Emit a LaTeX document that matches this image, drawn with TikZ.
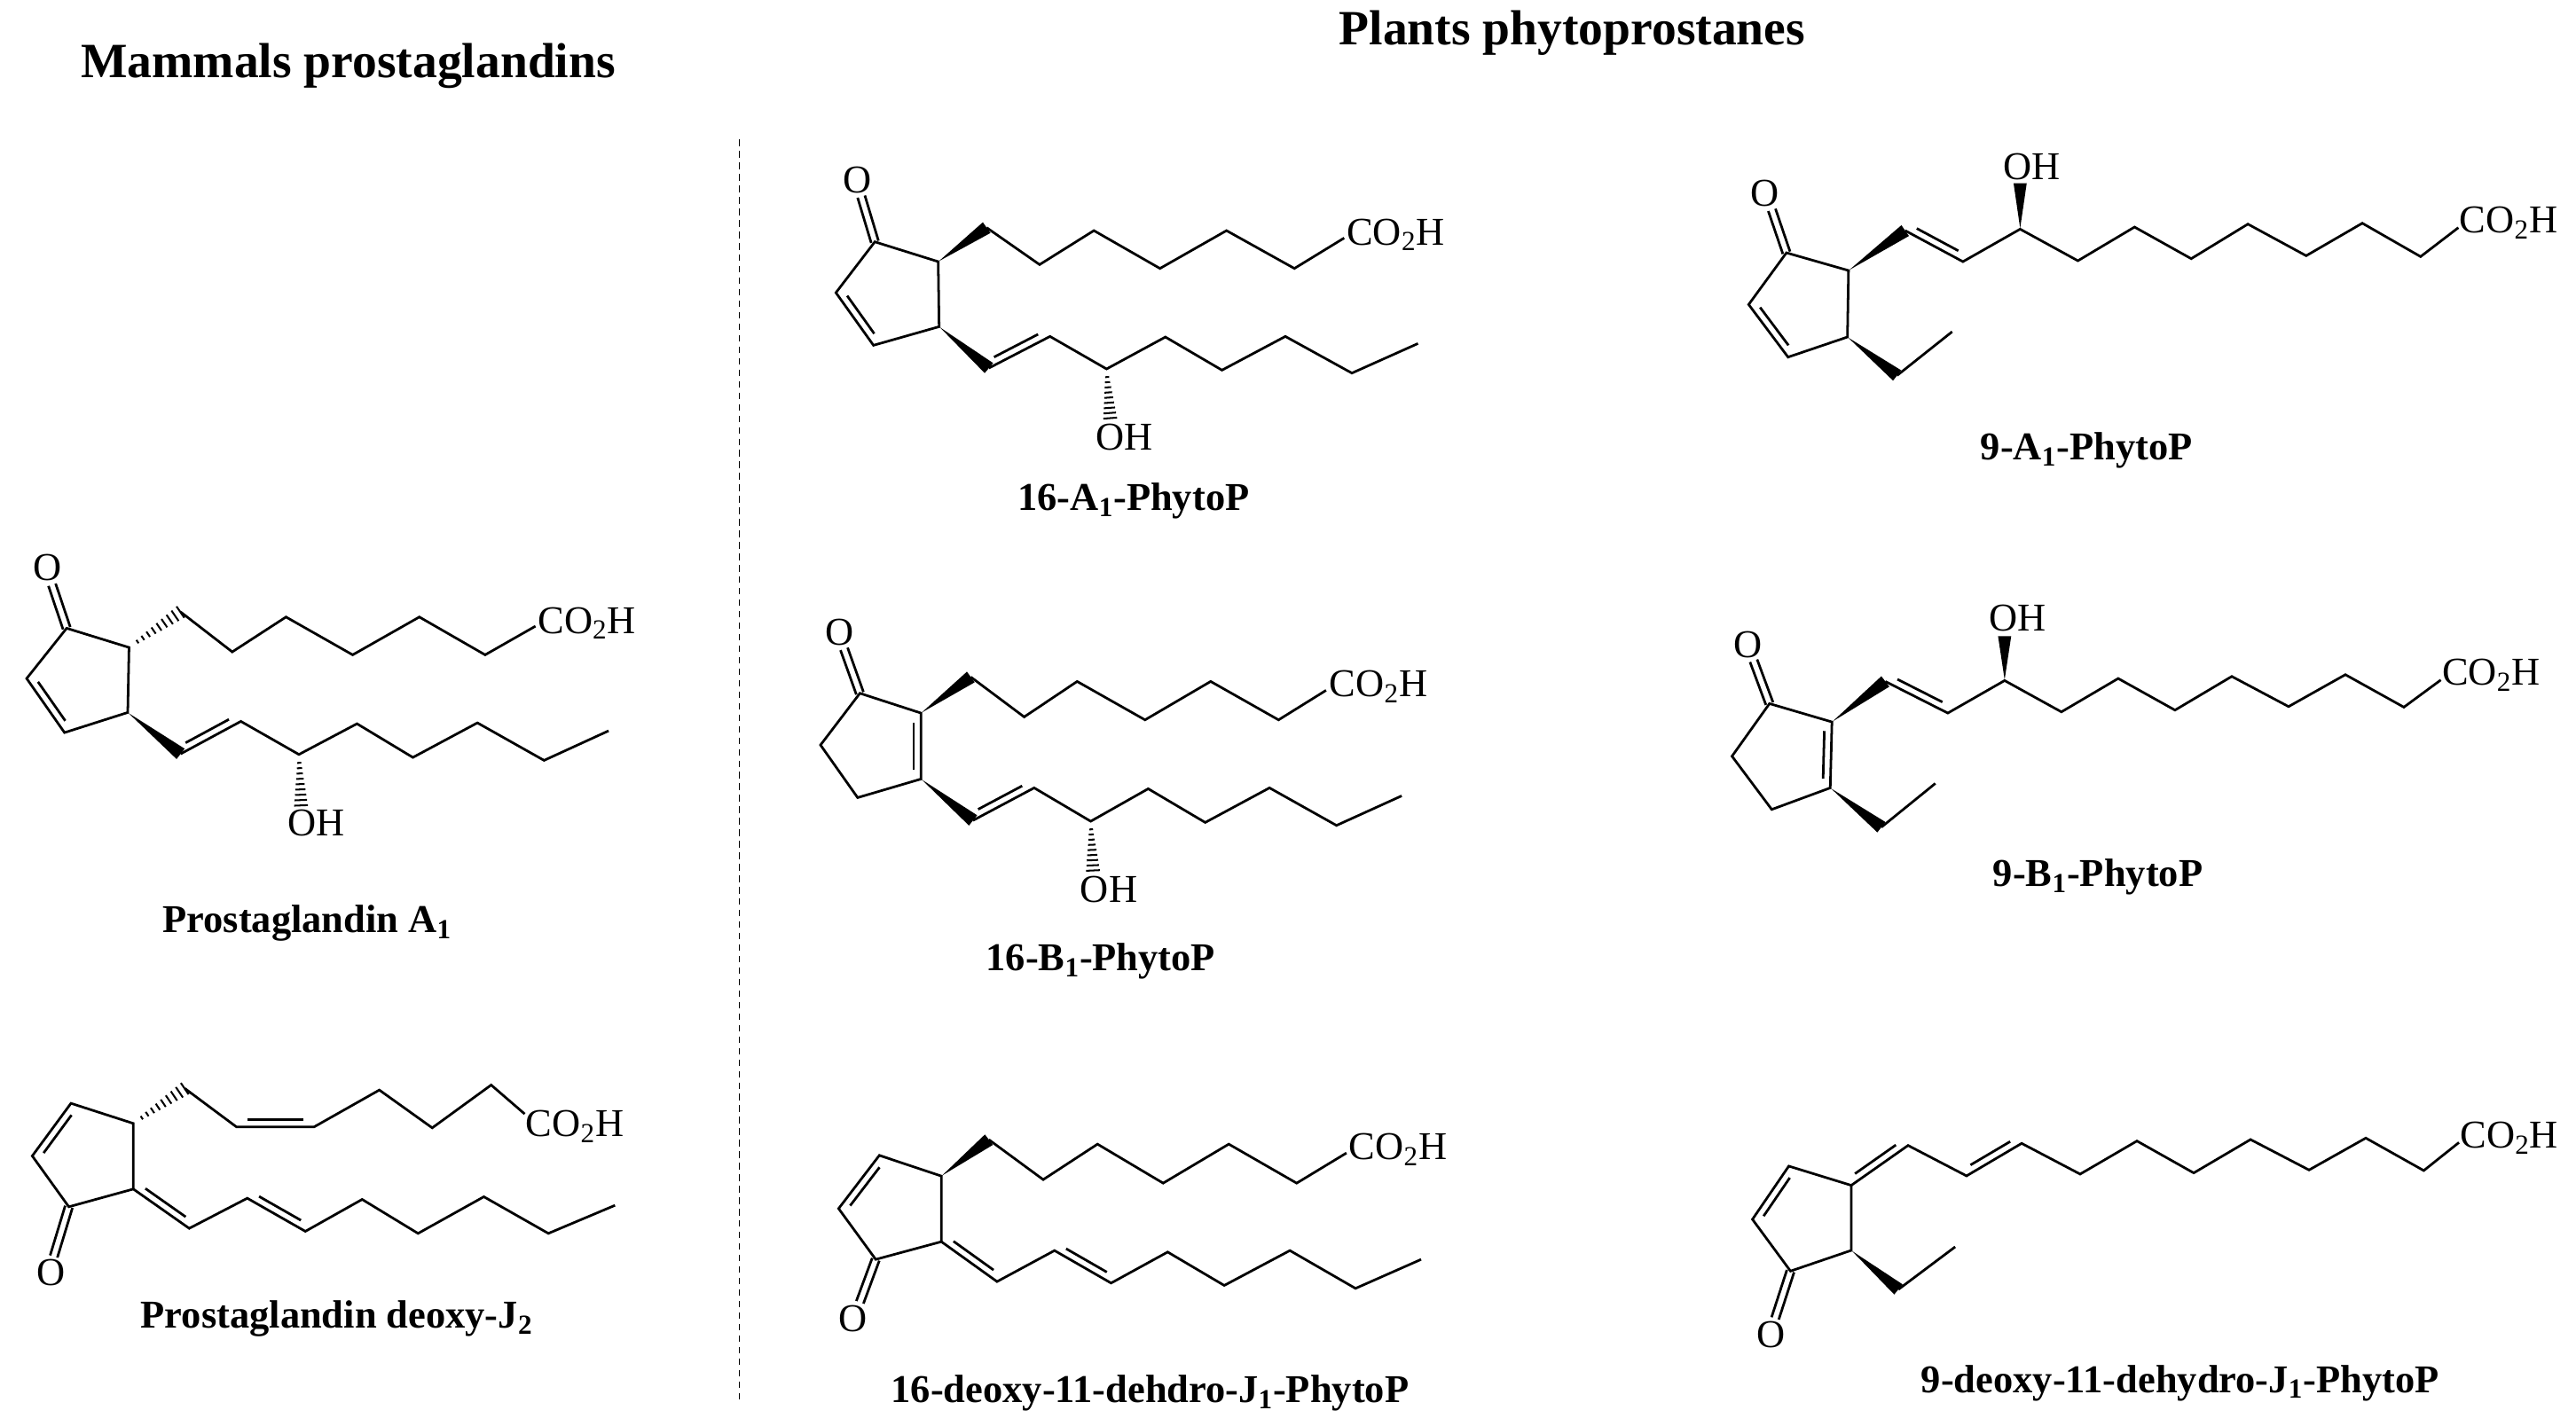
\documentclass[tikz,border=0pt]{standalone}
\usepackage{fontspec}
\setmainfont{Liberation Serif}
\usetikzlibrary{calc}
\tikzset{bond/.style={line width=1.5pt,line join=miter},
 lbl/.style={inner sep=0pt,font=\fontsize{24}{28}\selectfont},
 cname/.style={inner sep=0pt,font=\fontsize{24}{28}\selectfont\bfseries},
 ttl/.style={inner sep=0pt,font=\fontsize{30}{34}\selectfont\bfseries}}
\newcommand\wdg[2]{\fill ($(#1)!0.5pt!(#2)$) -- ($(#2)!4pt!90:(#1)$) -- ($(#2)!4pt!-90:(#1)$) -- cycle;}
\newcommand\hsh[2]{\foreach \i in {1,...,9}{\pgfmathsetmacro\hT{0.06+\i*0.104}\pgfmathsetmacro\hD{0.6+\hT*3.6}%
 \draw[line width=1.1pt] ($(#1)!\hT!(#2)!\hD pt!90:(#2)$) -- ($(#1)!\hT!(#2)!\hD pt!-90:(#2)$);}}
\newcommand\dbin[3]{\draw[bond] ($(#1)!0.14!(#2)!#3!90:(#2)$) -- ($(#1)!0.86!(#2)!#3!90:(#2)$);}
\newcommand\dco[2]{\draw[bond] ($(#1)!2.3pt!90:(#2)$) -- ($(#2)!2.3pt!-90:(#1)$); \draw[bond] ($(#1)!2.3pt!-90:(#2)$) -- ($(#2)!2.3pt!90:(#1)$);}
\begin{document}
\begin{tikzpicture}[x=1pt,y=-1pt]
\useasboundingbox[fill=white] (0,0) rectangle (1568,868);
\node[ttl] (t1) at (212,40) {Mammals prostaglandins};
\node[ttl] (t2) at (957,20) {Plants phytoprostanes};
\draw[line width=1pt,dash pattern=on 4pt off 3pt] (450,85) coordinate (dl1) -- (450,852) coordinate (dl2);

% ---------- PGA1
\begin{scope}[shift={(0,324)},xscale=0.2618,yscale=0.18]
\node[lbl] (AO) at (110,120) {O}; \coordinate (AOe) at (121,178);
\coordinate (Ak) at (155,325); \coordinate (A2) at (300,390); \coordinate (A3) at (297,610);
\coordinate (A4) at (150,678); \coordinate (A5) at (62,495);
\coordinate (Aa1) at (420,270); \coordinate (Aa2) at (540,405); \coordinate (Aa3) at (665,287);
\coordinate (Aa4) at (820,415); \coordinate (Aa5) at (975,287); \coordinate (Aa6) at (1128,415);
\coordinate (Ae) at (1245,318); \node[lbl,anchor=base west] (Ac) at (1250,342) {CO\textsubscript{2}H};
\coordinate (Ab1) at (420,750); \coordinate (Ab2) at (560,640); \coordinate (Ab3) at (695,752);
\coordinate (Aoh) at (700,925); \node[lbl] (AOH) at (735,985) {OH};
\coordinate (Ab4) at (830,648); \coordinate (Ab5) at (960,762); \coordinate (Ab6) at (1110,645);
\coordinate (Ab7) at (1265,772); \coordinate (Ab8) at (1415,672);
\end{scope}
\draw[bond] (Ak)--(A2)--(A3)--(A4)--(A5)--cycle; \dbin{A5}{A4}{4.5pt} \dco{Ak}{AOe}
\hsh{A2}{Aa1} \draw[bond] (Aa1)--(Aa2)--(Aa3)--(Aa4)--(Aa5)--(Aa6)--(Ae);
\wdg{A3}{Ab1} \draw[bond] (Ab1)--(Ab2)--(Ab3)--(Ab4)--(Ab5)--(Ab6)--(Ab7)--(Ab8); \dbin{Ab1}{Ab2}{4.5pt}
\hsh{Ab3}{Aoh}
\node[cname] (An) at (187,562) {Prostaglandin A\textsubscript{1}};

% ---------- PG deoxy-J2
\begin{scope}[shift={(0,621)},xscale=0.2618,yscale=0.18]
\coordinate (J1) at (310,350); \coordinate (Ja) at (165,282); \coordinate (Jb) at (75,460);
\coordinate (Jk) at (160,632); \coordinate (J5) at (310,572);
\coordinate (JOe) at (125,800); \node[lbl] (JO) at (118,855) {O};
\coordinate (Jh1) at (430,232); \coordinate (Jh2) at (550,362); \coordinate (Jh3) at (730,362);
\coordinate (Jh4) at (882,237); \coordinate (Jh5) at (1005,365); \coordinate (Jh6) at (1142,220);
\coordinate (Je) at (1220,318); \node[lbl,anchor=base west] (Jc) at (1222,395) {CO\textsubscript{2}H};
\coordinate (Je1) at (440,705); \coordinate (Je2) at (575,603); \coordinate (Je3) at (710,715);
\coordinate (Je4) at (842,607); \coordinate (Je5) at (972,722); \coordinate (Je6) at (1125,598);
\coordinate (Je7) at (1275,722); \coordinate (Je8) at (1430,627);
\end{scope}
\draw[bond] (J1)--(Ja)--(Jb)--(Jk)--(J5)--cycle; \dbin{Ja}{Jb}{4.5pt} \dco{Jk}{JOe}
\hsh{J1}{Jh1} \draw[bond] (Jh1)--(Jh2)--(Jh3)--(Jh4)--(Jh5)--(Jh6)--(Je); \dbin{Jh2}{Jh3}{4.5pt}
\draw[bond] (J5)--(Je1)--(Je2)--(Je3)--(Je4)--(Je5)--(Je6)--(Je7)--(Je8); \dbin{J5}{Je1}{4.5pt} \dbin{Je2}{Je3}{4.5pt}
\node[cname] (Jn) at (205,803) {Prostaglandin deoxy-J\textsubscript{2}};

% ---------- 16-A1
\begin{scope}[shift={(475.2,81)},xscale=0.2755,yscale=0.18]
\node[lbl] (BO) at (170,160) {O}; \coordinate (BOe) at (178,215);
\coordinate (Bk) at (208,368); \coordinate (B2) at (348,435); \coordinate (B3) at (350,655);
\coordinate (B4) at (205,718); \coordinate (B5) at (122,540);
\coordinate (Ba1) at (455,320); \coordinate (Ba2) at (572,445); \coordinate (Ba3) at (692,330);
\coordinate (Ba4) at (838,458); \coordinate (Ba5) at (985,330); \coordinate (Ba6) at (1135,458);
\coordinate (Be) at (1245,355); \node[lbl,anchor=base west] (Bc) at (1250,378) {CO\textsubscript{2}H};
\coordinate (Bb1) at (460,795); \coordinate (Bb2) at (595,688); \coordinate (Bb3) at (720,798);
\coordinate (Boh) at (728,965); \node[lbl] (BOH) at (760,1030) {OH};
\coordinate (Bb4) at (850,690); \coordinate (Bb5) at (975,802); \coordinate (Bb6) at (1115,688);
\coordinate (Bb7) at (1262,812); \coordinate (Bb8) at (1408,712);
\end{scope}
\draw[bond] (Bk)--(B2)--(B3)--(B4)--(B5)--cycle; \dbin{B5}{B4}{4.5pt} \dco{Bk}{BOe}
\wdg{B2}{Ba1} \draw[bond] (Ba1)--(Ba2)--(Ba3)--(Ba4)--(Ba5)--(Ba6)--(Be);
\wdg{B3}{Bb1} \draw[bond] (Bb1)--(Bb2)--(Bb3)--(Bb4)--(Bb5)--(Bb6)--(Bb7)--(Bb8); \dbin{Bb1}{Bb2}{4.5pt}
\hsh{Bb3}{Boh}
\node[cname] (Bn) at (690,305) {16-A\textsubscript{1}-PhytoP};

% ---------- 16-B1
\begin{scope}[shift={(475.2,356.4)},xscale=0.2755,yscale=0.18]
\node[lbl] (CO) at (130,160) {O}; \coordinate (COe) at (140,215);
\coordinate (Ck) at (175,365); \coordinate (C2) at (310,432); \coordinate (C3) at (310,655);
\coordinate (C4) at (170,718); \coordinate (C5) at (88,540);
\coordinate (Ca1) at (420,310); \coordinate (Ca2) at (538,445); \coordinate (Ca3) at (655,325);
\coordinate (Ca4) at (805,455); \coordinate (Ca5) at (950,325); \coordinate (Ca6) at (1100,455);
\coordinate (Ce) at (1205,355); \node[lbl,anchor=base west] (Cc) at (1212,375) {CO\textsubscript{2}H};
\coordinate (Cb1) at (425,795); \coordinate (Cb2) at (560,685); \coordinate (Cb3) at (685,798);
\coordinate (Coh) at (690,965); \node[lbl] (COH) at (725,1030) {OH};
\coordinate (Cb4) at (812,688); \coordinate (Cb5) at (938,802); \coordinate (Cb6) at (1080,685);
\coordinate (Cb7) at (1228,812); \coordinate (Cb8) at (1372,712);
\end{scope}
\draw[bond] (Ck)--(C2)--(C3)--(C4)--(C5)--cycle; \dbin{C2}{C3}{-4.5pt} \dco{Ck}{COe}
\wdg{C2}{Ca1} \draw[bond] (Ca1)--(Ca2)--(Ca3)--(Ca4)--(Ca5)--(Ca6)--(Ce);
\wdg{C3}{Cb1} \draw[bond] (Cb1)--(Cb2)--(Cb3)--(Cb4)--(Cb5)--(Cb6)--(Cb7)--(Cb8); \dbin{Cb1}{Cb2}{4.5pt}
\hsh{Cb3}{Coh}
\node[cname] (Cn) at (670,585) {16-B\textsubscript{1}-PhytoP};

% ---------- 16-deoxy-J1
\begin{scope}[shift={(475.2,648)},xscale=0.2755,yscale=0.18]
\coordinate (D1) at (355,378); \coordinate (Da) at (218,308); \coordinate (Db) at (128,488);
\coordinate (Dk) at (210,660); \coordinate (D5) at (355,600);
\coordinate (DOe) at (175,805); \node[lbl] (DO) at (160,860) {O};
\coordinate (Da1) at (460,255); \coordinate (Da2) at (580,390); \coordinate (Da3) at (700,270);
\coordinate (Da4) at (845,402); \coordinate (Da5) at (990,270); \coordinate (Da6) at (1140,402);
\coordinate (De) at (1250,300); \node[lbl,anchor=base west] (Dc) at (1255,322) {CO\textsubscript{2}H};
\coordinate (De1) at (478,735); \coordinate (De2) at (605,630); \coordinate (De3) at (730,740);
\coordinate (De4) at (855,635); \coordinate (De5) at (980,748); \coordinate (De6) at (1125,630);
\coordinate (De7) at (1270,758); \coordinate (De8) at (1415,660);
\end{scope}
\draw[bond] (D1)--(Da)--(Db)--(Dk)--(D5)--cycle; \dbin{Da}{Db}{4.5pt} \dco{Dk}{DOe}
\wdg{D1}{Da1} \draw[bond] (Da1)--(Da2)--(Da3)--(Da4)--(Da5)--(Da6)--(De);
\draw[bond] (D5)--(De1)--(De2)--(De3)--(De4)--(De5)--(De6)--(De7)--(De8); \dbin{D5}{De1}{4.5pt} \dbin{De2}{De3}{4.5pt}
\node[cname] (Dn) at (700,848) {16-deoxy-11-dehdro-J\textsubscript{1}-PhytoP};

% ---------- 9-A1
\begin{scope}[shift={(1052.9,81)},xscale=0.3285,yscale=0.18]
\node[lbl] (EO) at (65,205) {O}; \coordinate (EOe) at (78,260);
\coordinate (Ek) at (105,405); \coordinate (E2) at (220,465); \coordinate (E3) at (218,690);
\coordinate (E4) at (108,758); \coordinate (E5) at (35,580);
\coordinate (Ea1) at (325,330); \coordinate (Ea2) at (432,435); \coordinate (Ea3) at (538,325);
\coordinate (Eoh) at (538,170); \node[lbl] (EOH) at (560,115) {OH};
\coordinate (Ea4) at (645,432); \coordinate (Ea5) at (750,318); \coordinate (Ea6) at (855,425);
\coordinate (Ea7) at (960,308); \coordinate (Ea8) at (1068,415); \coordinate (Ea9) at (1172,305);
\coordinate (Ea10) at (1280,418);
\coordinate (Ee) at (1350,320); \node[lbl,anchor=base west] (Ec) at (1352,338) {CO\textsubscript{2}H};
\coordinate (Ee1) at (310,820); \coordinate (Ee2) at (412,672);
\end{scope}
\draw[bond] (Ek)--(E2)--(E3)--(E4)--(E5)--cycle; \dbin{E5}{E4}{4.5pt} \dco{Ek}{EOe}
\wdg{E2}{Ea1} \draw[bond] (Ea1)--(Ea2)--(Ea3)--(Ea4)--(Ea5)--(Ea6)--(Ea7)--(Ea8)--(Ea9)--(Ea10)--(Ee); \dbin{Ea1}{Ea2}{4.5pt}
\wdg{Ea3}{Eoh}
\wdg{E3}{Ee1} \draw[bond] (Ee1)--(Ee2);
\node[cname] (En) at (1270,274) {9-A\textsubscript{1}-PhytoP};

% ---------- 9-B1
\begin{scope}[shift={(1025.9,340.2)},xscale=0.3457,yscale=0.18]
\node[lbl] (FO) at (110,290) {O}; \coordinate (FOe) at (120,345);
\coordinate (Fk) at (148,490); \coordinate (F2) at (258,552); \coordinate (F3) at (255,775);
\coordinate (F4) at (152,848); \coordinate (F5) at (82,668);
\coordinate (Fa1) at (352,415); \coordinate (Fa2) at (462,522); \coordinate (Fa3) at (562,412);
\coordinate (Foh) at (562,262); \node[lbl] (FOH) at (585,200) {OH};
\coordinate (Fa4) at (662,518); \coordinate (Fa5) at (762,405); \coordinate (Fa6) at (862,512);
\coordinate (Fa7) at (962,398); \coordinate (Fa8) at (1062,500); \coordinate (Fa9) at (1162,392);
\coordinate (Fa10) at (1265,502);
\coordinate (Fe) at (1330,410); \node[lbl,anchor=base west] (Fc) at (1332,428) {CO\textsubscript{2}H};
\coordinate (Fe1) at (345,908); \coordinate (Fe2) at (440,760);
\end{scope}
\draw[bond] (Fk)--(F2)--(F3)--(F4)--(F5)--cycle; \dbin{F2}{F3}{-4.5pt} \dco{Fk}{FOe}
\wdg{F2}{Fa1} \draw[bond] (Fa1)--(Fa2)--(Fa3)--(Fa4)--(Fa5)--(Fa6)--(Fa7)--(Fa8)--(Fa9)--(Fa10)--(Fe); \dbin{Fa1}{Fa2}{4.5pt}
\wdg{Fa3}{Foh}
\wdg{F3}{Fe1} \draw[bond] (Fe1)--(Fe2);
\node[cname] (Fn) at (1277,534) {9-B\textsubscript{1}-PhytoP};

% ---------- 9-deoxy-J1
\begin{scope}[shift={(1025.9,637.1)},xscale=0.3457,yscale=0.18]
\coordinate (G1) at (292,470); \coordinate (Ga) at (182,405); \coordinate (Gb) at (118,585);
\coordinate (Gk) at (185,760); \coordinate (G5) at (292,690);
\coordinate (GOe) at (158,920); \node[lbl] (GO) at (150,975) {O};
\coordinate (Ga1) at (392,335); \coordinate (Ga2) at (495,438); \coordinate (Ga3) at (592,328);
\coordinate (Ga4) at (695,432); \coordinate (Ga5) at (795,320); \coordinate (Ga6) at (895,428);
\coordinate (Ga7) at (995,315); \coordinate (Ga8) at (1098,418); \coordinate (Ga9) at (1198,310);
\coordinate (Ga10) at (1300,420);
\coordinate (Ge) at (1362,325); \node[lbl,anchor=base west] (Gc) at (1364,345) {CO\textsubscript{2}H};
\coordinate (Ge1) at (375,822); \coordinate (Ge2) at (475,678);
\end{scope}
\draw[bond] (G1)--(Ga)--(Gb)--(Gk)--(G5)--cycle; \dbin{Ga}{Gb}{4.5pt} \dco{Gk}{GOe}
\draw[bond] (G1)--(Ga1)--(Ga2)--(Ga3)--(Ga4)--(Ga5)--(Ga6)--(Ga7)--(Ga8)--(Ga9)--(Ga10)--(Ge); \dbin{G1}{Ga1}{4.5pt} \dbin{Ga2}{Ga3}{4.5pt}
\wdg{G5}{Ge1} \draw[bond] (Ge1)--(Ge2);
\node[cname] (Gn) at (1327,842) {9-deoxy-11-dehydro-J\textsubscript{1}-PhytoP};
\end{tikzpicture}
\end{document}
